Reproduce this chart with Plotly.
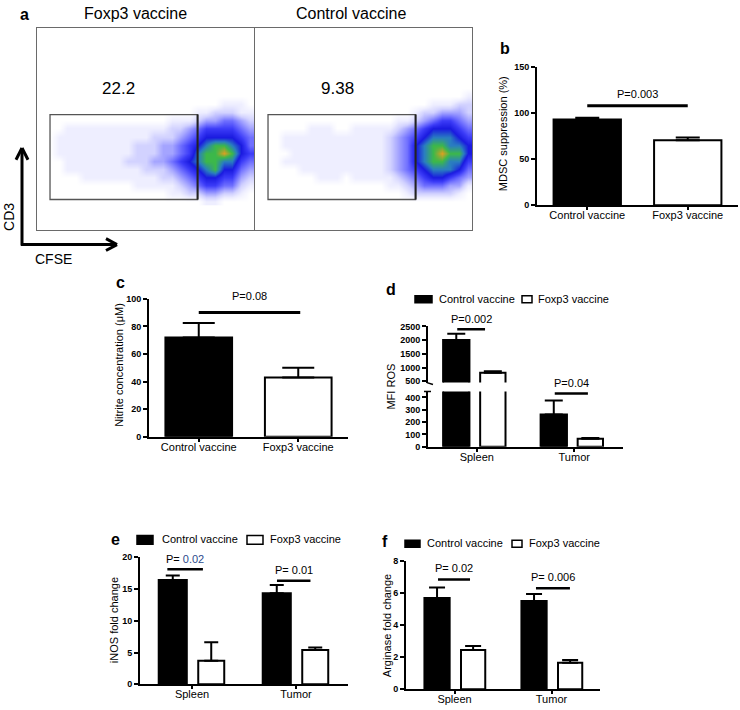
import plotly.graph_objects as go

W, H = 740, 710
FONT = "Liberation Sans, Arial, sans-serif"


def px(x):
    return x / W


def py(y):
    return 1 - y / H


# ---------------- data ----------------
# panel a: flow cytometry (CFSE vs CD3), pseudo-colour density (levels 0-9), rows listed top -> bottom
flow_titles = ["Foxp3 vaccine", "Control vaccine"]
flow_gate_pct = ["22.2", "9.38"]
gate_cfse = [6, 74]
gate_cd3 = [15, 57]
density_x = [2, 6, 10, 14, 18, 22, 26, 30, 34, 38, 42, 46, 50, 54, 58, 62, 66, 70, 74, 78, 82, 86, 90, 94, 98]
density_y = [14, 18, 22, 26, 30, 34, 38, 42, 46, 50, 54, 58, 62, 66, 70]
density_foxp3 = [
    "0000000000000000000000000",
    "0000000000000000000000000",
    "0000000000000000000001110",
    "0000000000000000001122211",
    "0000000000000001112334432",
    "0001111111111112234555543",
    "0011111111111222345666654",
    "0011111111122233456788764",
    "0011111111122233457889865",
    "0001111111222334567887754",
    "0001111111112223456786643",
    "0000011111111122345665532",
    "0000000000011111234554421",
    "0000000000000001122332210",
    "0000000000000000000110000",
]
density_control = [
    "0000000000000000000000000",
    "0000000000000000000000001",
    "0000000000000000000011122",
    "0000000000000000001223332",
    "0000000000000000112345543",
    "0000001110011111234566654",
    "0001111111111112345677765",
    "0001111111111112346788776",
    "0000111111111112346789886",
    "0001111111111112346788775",
    "0000011111111112345677764",
    "0000000111011111234566543",
    "0000000000000001123444331",
    "0000000000000000012222210",
    "0000000000000000000000000",
]

# panel b
b_groups = ["Control vaccine", "Foxp3 vaccine"]
b_mean = [93, 70.5]
b_sem = [2, 3]
b_p_text = "P=0.003"
b_p_y = 108

# panel c
c_groups = ["Control vaccine", "Foxp3 vaccine"]
c_mean = [72, 43]
c_sem = [10.5, 7]
c_p_text = "P=0.08"
c_p_y = 90

# panel d (broken axis)
tissues = ["Spleen", "Tumor"]
d_control = [2000, 262]
d_control_sem = [235, 113]
d_foxp3 = [810, 64]
d_foxp3_sem = [55, 6]
d_p_text = ["P=0.002", "P=0.04"]
d_p_y = [2392, 432]

# panel e
e_control = [16.4, 14.3]
e_control_sem = [0.7, 1.3]
e_foxp3 = [3.7, 5.4]
e_foxp3_sem = [2.9, 0.4]
e_p_text = ["P= 0.02", "P= 0.01"]
e_p_y = [18.1, 16.3]

# panel f
f_control = [5.7, 5.5]
f_control_sem = [0.65, 0.45]
f_foxp3 = [2.45, 1.65]
f_foxp3_sem = [0.25, 0.17]
f_p_text = ["P= 0.02", "P= 0.006"]
f_p_y = [6.85, 6.3]

series_names = ["Control vaccine", "Foxp3 vaccine"]

# ---------------- figure ----------------
fig = go.Figure()
shapes = []
annotations = []

flow_scale = [
    [0.0, "#ffffff"],
    [1 / 9, "#eeeeff"],
    [2 / 9, "#d2d2ff"],
    [3 / 9, "#a4a4ff"],
    [4 / 9, "#7070ff"],
    [5 / 9, "#3c3cf8"],
    [6 / 9, "#1a1ae0"],
    [7 / 9, "#2a7ec0"],
    [8 / 9, "#3cb84a"],
    [1.0, "#e0a020"],
]

flow_axes = [("x", "y"), ("x2", "y2")]
for (xa, ya), dens in zip(flow_axes, [density_foxp3, density_control]):
    z = [[int(ch) for ch in row] for row in reversed(dens)]
    fig.add_trace(go.Heatmap(x=density_x, y=density_y, z=z, xaxis=xa, yaxis=ya,
                             zmin=0, zmax=9, zsmooth="best", colorscale=flow_scale,
                             showscale=False, hoverinfo="skip"))
    shapes.append(dict(type="rect", xref=xa, yref=ya, x0=gate_cfse[0], x1=gate_cfse[1],
                       y0=gate_cd3[0], y1=gate_cd3[1], line=dict(color="#555555", width=1.3)))
    shapes.append(dict(type="line", xref=xa, yref=ya, x0=gate_cfse[1], x1=gate_cfse[1],
                       y0=gate_cd3[0], y1=gate_cd3[1], line=dict(color="#222222", width=2)))

err = lambda arr, w: dict(type="data", array=arr, arrayminus=[0] * len(arr), symmetric=False,
                          color="black", thickness=2, width=w)

# panel b
fig.add_trace(go.Bar(x=b_groups, y=b_mean, xaxis="x3", yaxis="y3", width=0.67,
                     marker=dict(color=["black", "white"], line=dict(color="black", width=2)),
                     error_y=err(b_sem, 12), showlegend=False))
# panel c
fig.add_trace(go.Bar(x=c_groups, y=c_mean, xaxis="x4", yaxis="y4", width=0.67,
                     marker=dict(color=["black", "white"], line=dict(color="black", width=2)),
                     error_y=err(c_sem, 16), showlegend=False))

# panel d: same bars on lower (y5) and upper (y6) segments
for ya in ["y5", "y6"]:
    fig.add_trace(go.Bar(x=tissues, y=d_control, xaxis="x5", yaxis=ya, name=series_names[0],
                         offset=-0.345, width=0.27,
                         marker=dict(color="black", line=dict(color="black", width=2)),
                         error_y=err(d_control_sem, 9), showlegend=False))
    fig.add_trace(go.Bar(x=tissues, y=d_foxp3, xaxis="x5", yaxis=ya, name=series_names[1],
                         offset=0.035, width=0.26,
                         marker=dict(color="white", line=dict(color="black", width=2)),
                         error_y=err(d_foxp3_sem, 9), showlegend=False))

# panel e
fig.add_trace(go.Bar(x=tissues, y=e_control, xaxis="x7", yaxis="y7", name=series_names[0],
                     offset=-0.32, width=0.27,
                     marker=dict(color="black", line=dict(color="black", width=2)),
                     error_y=err(e_control_sem, 7), showlegend=False))
fig.add_trace(go.Bar(x=tissues, y=e_foxp3, xaxis="x7", yaxis="y7", name=series_names[1],
                     offset=0.06, width=0.25,
                     marker=dict(color="white", line=dict(color="black", width=2)),
                     error_y=err(e_foxp3_sem, 7), showlegend=False))

# panel f
fig.add_trace(go.Bar(x=tissues, y=f_control, xaxis="x8", yaxis="y8", name=series_names[0],
                     offset=-0.31, width=0.26,
                     marker=dict(color="black", line=dict(color="black", width=2)),
                     error_y=err(f_control_sem, 8), showlegend=False))
fig.add_trace(go.Bar(x=tissues, y=f_foxp3, xaxis="x8", yaxis="y8", name=series_names[1],
                     offset=0.067, width=0.25,
                     marker=dict(color="white", line=dict(color="black", width=2)),
                     error_y=err(f_foxp3_sem, 8), showlegend=False))


# ---- significance lines ----
def sig(xa, ya, x0, x1, yv, text, shift, lw=2.5, color="black"):
    shapes.append(dict(type="line", xref=xa, yref=ya, x0=x0, x1=x1, y0=yv, y1=yv,
                       line=dict(color="black", width=lw)))
    annotations.append(dict(text=text, xref=xa, yref=ya, x=(x0 + x1) / 2, y=yv, yanchor="bottom",
                            yshift=shift, showarrow=False,
                            font=dict(family=FONT, size=11, color=color)))


sig("x3", "y3", 0, 1, b_p_y, b_p_text, 4, lw=3)
sig("x4", "y4", 0, 1.02, c_p_y, c_p_text, 9, lw=3)
d_spans = [[-0.2, 0.085], [-0.2, 0.14]]
sig("x5", "y6", 0 + d_spans[0][0], 0 + d_spans[0][1], d_p_y[0], d_p_text[0], 2)
sig("x5", "y5", 1 + d_spans[1][0], 1 + d_spans[1][1], d_p_y[1], d_p_text[1], 2)
e_spans = [[-0.237, 0.105], [-0.183, 0.139]]
sig("x7", "y7", 0 + e_spans[0][0], 0 + e_spans[0][1], e_p_y[0],
    'P= <span style="color:#2b4a8c">0.02</span>', 2)
sig("x7", "y7", 1 + e_spans[1][0], 1 + e_spans[1][1], e_p_y[1], e_p_text[1], 3)
f_spans = [[-0.17, 0.16], [-0.16, 0.19]]
for i in range(2):
    sig("x8", "y8", i + f_spans[i][0], i + f_spans[i][1], f_p_y[i], f_p_text[i], 3)


# ---- text helpers ----
def ann(text, x, y, size=11, angle=0, xanchor="center", yanchor="middle"):
    annotations.append(dict(text=text, x=px(x), y=py(y), xref="paper", yref="paper", showarrow=False,
                            textangle=angle, xanchor=xanchor, yanchor=yanchor,
                            font=dict(family=FONT, size=size, color="black")))


def pline(x0, y0, x1, y1, w=3, color="black"):
    shapes.append(dict(type="line", xref="paper", yref="paper", x0=px(x0), y0=py(y0),
                       x1=px(x1), y1=py(y1), line=dict(color=color, width=w)))


def prect(x0, y0, x1, y1, fill):
    shapes.append(dict(type="rect", xref="paper", yref="paper", x0=px(x0), y0=py(y0),
                       x1=px(x1), y1=py(y1), fillcolor=fill, line=dict(color="black", width=1.5)))


# panel letters
for letter, x, y in [("a", 24, 10), ("b", 505, 44), ("c", 120, 281), ("d", 391, 289),
                     ("e", 115, 542), ("f", 385, 544)]:
    ann("<b>" + letter + "</b>", x, y, size=16)

# flow titles and gate numbers
ann(flow_titles[0], 135, 9, size=16)
ann(flow_titles[1], 351, 9, size=16)
ann(flow_gate_pct[0], 118, 85, size=17)
ann(flow_gate_pct[1], 337, 85, size=17)

# CD3 / CFSE arrows
pline(22, 244, 22, 146)
pline(21, 243, 117, 243)
pline(16, 157, 22, 145)
pline(28, 157, 22, 145)
pline(106, 237, 117, 243)
pline(106, 249, 117, 243)
ann("CD3", 9, 215, size=14, angle=-90)
ann("CFSE", 53, 258, size=14)

# y-axis titles
ann("MDSC suppression (%)", 503, 131, angle=-90)
ann("Nitrite concentration (μM)", 119, 365, angle=-90)
ann("MFI ROS", 391, 387, angle=-90)
ann("iNOS fold change", 114, 624, angle=-90)
ann("Arginase fold change", 387, 630, angle=-90)

# legends
for (bx0, bx1, wx0, wx1, ly0, ly1, t1x, t2x, ty) in [
    (415, 432, 522, 532, 295, 302, 437, 536, 298),
    (137, 153, 247, 263, 538, 547, 160, 268, 542),
    (405, 420, 512, 522, 543, 550, 425, 527, 546),
]:
    prect(bx0, ly0, bx1, ly1, "black")
    prect(wx0, ly0, wx1, ly1, "white")
    ann(series_names[0], t1x, ty, xanchor="left")
    ann(series_names[1], t2x, ty, xanchor="left")

# broken-axis marks in panel d
pline(424, 392, 431, 392, w=1.5)
pline(427, 383, 433, 385, w=1.5)

# ---------------- axes ----------------
flow_ax = dict(range=[0, 100], showline=True, mirror=True, linecolor="#6a6a6a", linewidth=1.2,
               showticklabels=False, ticks="", showgrid=False, zeroline=False, fixedrange=True)

tickfont = dict(family=FONT, size=9, color="black", weight="bold")
catfont = dict(family=FONT, size=11, color="black")


def yax(dom, rng, tickvals, anchor):
    return dict(domain=dom, range=rng, tickvals=tickvals, anchor=anchor, showline=True,
                linecolor="black", linewidth=1.8, ticks="outside", ticklen=4, tickwidth=1.5,
                tickcolor="black", tickfont=tickfont, showgrid=False, zeroline=False)


def xax(dom, anchor, standoff=-4):
    return dict(domain=dom, anchor=anchor, type="category", range=[-0.5, 1.5], showline=True,
                linecolor="black", linewidth=1.8, ticks="outside", ticklen=3, tickwidth=1.5,
                tickcolor="black", tickfont=catfont, showgrid=False, zeroline=False,
                ticklabelstandoff=standoff)


layout = dict(
    width=W, height=H, autosize=False,
    margin=dict(l=0, r=0, t=0, b=0),
    paper_bgcolor="white", plot_bgcolor="white",
    font=dict(family=FONT, color="black"),
    showlegend=False,
    barmode="overlay",
    xaxis=dict(domain=[px(37), px(254)], anchor="y", **flow_ax),
    yaxis=dict(domain=[py(228), py(23)], anchor="x", **flow_ax),
    xaxis2=dict(domain=[px(255), px(472)], anchor="y2", **flow_ax),
    yaxis2=dict(domain=[py(228), py(23)], anchor="x2", **flow_ax),
    xaxis3=xax([px(537), px(738)], "y3"),
    yaxis3=yax([py(203), py(63)], [0, 150], [0, 50, 100, 150], "x3"),
    xaxis4=xax([px(149), px(348)], "y4"),
    yaxis4=yax([py(438), py(298)], [0, 100], [0, 20, 40, 60, 80, 100], "x4"),
    xaxis5=xax([px(428), px(623)], "y5"),
    yaxis5=yax([py(448), py(392)], [0, 448], [0, 100, 200, 300, 400], "x5"),
    yaxis6=yax([py(383), py(326)], [450, 2500], [500, 1000, 1500, 2000, 2500], "x5"),
    xaxis7=xax([px(140), px(348)], "y7"),
    yaxis7=yax([py(689), py(560)], [0, 20], [0, 5, 10, 15, 20], "x7"),
    xaxis8=xax([px(406), px(600)], "y8"),
    yaxis8=yax([py(694), py(564)], [0, 8], [0, 2, 4, 6, 8], "x8"),
    shapes=shapes,
    annotations=annotations,
)
fig.update_layout(**layout)
fig.write_html("out.html", config={"displayModeBar": False},
               post_script="document.body.style.margin='0';document.body.style.overflow='hidden';")
